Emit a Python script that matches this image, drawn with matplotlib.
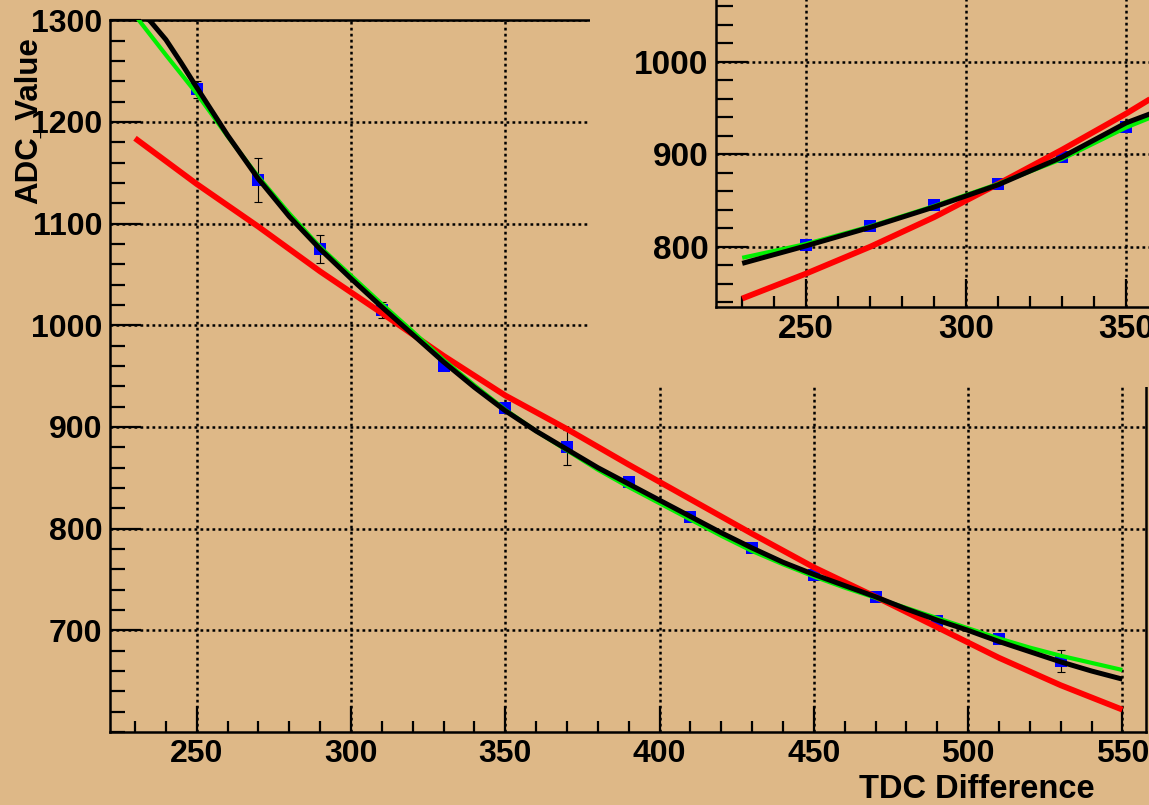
import matplotlib
matplotlib.use("Agg")
import matplotlib.pyplot as plt

plt.rcParams['font.family'] = ['Liberation Sans', 'DejaVu Sans']
plt.rcParams['font.weight'] = 'bold'

BG = "#DEB887"

# ---------------- main plot data ----------------
x_pts = [250, 270, 290, 310, 330, 350, 370, 390, 410, 430, 450, 470, 490, 510, 530]
y_pts = [1232, 1143, 1075, 1015, 960, 919, 880, 846, 811, 781, 754, 733, 709, 691, 670]
y_err = [8.5, 21.5, 14, 8, 3, 3, 17.5, 3, 3, 3, 3, 3, 3, 3, 10.5]

red_x = [230, 250, 270, 290, 310, 330, 350, 370, 390, 410, 430, 450, 470, 490, 510, 530, 550]
red_y = [1184, 1139, 1097, 1053, 1012, 970, 931, 898, 863, 829, 795, 762, 733, 703, 673, 646, 622]

black_x = [230, 235, 240, 245, 250, 260, 270, 280, 290, 300, 310, 320, 330, 340, 350, 360, 370,
           380, 390, 400, 410, 420, 430, 440, 450, 460, 470, 480, 490, 500, 510, 520, 530, 540, 550]
black_y = [1313, 1299, 1281, 1258, 1234, 1187, 1144, 1107, 1075, 1046, 1018, 991, 964, 939, 916, 896, 878,
           860, 844, 828, 812, 796, 781, 767, 755, 744, 733, 721, 710, 700, 689, 679, 669, 660, 652]

green_x = [230, 240, 250, 260, 270, 280, 290, 300, 310, 320, 330, 340, 350, 360, 370, 380, 390,
           400, 410, 420, 430, 440, 450, 460, 470, 480, 490, 500, 510, 520, 530, 540, 550]
green_y = [1305, 1266, 1228, 1186, 1146, 1110, 1077, 1049, 1021, 994, 966, 941, 917, 896, 877, 858, 841,
           825, 809, 793, 778, 765, 753, 742, 732, 722, 712, 702, 692, 683, 675, 668, 661]

x_major = [250, 300, 350, 400, 450, 500, 550]
x_minor = list(range(230, 560, 10))
y_major = [700, 800, 900, 1000, 1100, 1200, 1300]
y_minor = list(range(600, 1301, 20))

# ---------------- inset data ----------------
ix_pts = [250, 270, 290, 310, 330, 350]
iy_pts = [802, 822, 845, 868, 897, 930]

ired_x = [230, 250, 270, 290, 310, 330, 350, 360]
ired_y = [744, 771, 800, 832, 868, 905, 944, 965]
iblack_x = [230, 250, 270, 290, 310, 330, 350, 360]
iblack_y = [782, 801, 821, 843, 867, 897, 934, 947]
igreen_x = [230, 250, 270, 290, 310, 330, 350, 360]
igreen_y = [788, 803, 822, 844, 868, 895, 929, 943]

ix_major = [250, 300, 350, 400, 450, 500, 550]
iy_major = [800, 900, 1000, 1100]
iy_ticklabels = ["800", "900", "1000", "1100"]

W, H = 1149, 805
def fx(px): return px / W
def fy(py): return 1 - py / H

fig = plt.figure(figsize=(W / 100, H / 100), dpi=100, facecolor=BG)

GRID = dict(color='black', linestyle=(0, (1.1, 1.3)), linewidth=1.8)

def style_axes(a, xmaj_len, xmin_len, ymaj_len, ymin_len, fs):
    a.set_facecolor(BG)
    for s in a.spines.values():
        s.set_linewidth(1.8)
        s.set_color('black')
    a.tick_params(axis='x', which='major', direction='in', length=xmaj_len, width=1.6,
                  labelsize=fs, pad=5, top=False)
    a.tick_params(axis='x', which='minor', direction='in', length=xmin_len, width=1.6, top=False)
    a.tick_params(axis='y', which='major', direction='in', length=ymaj_len, width=1.6,
                  labelsize=fs, pad=5.5, right=False)
    a.tick_params(axis='y', which='minor', direction='in', length=ymin_len, width=1.6, right=False)
    a.grid(True, which='major', **GRID)
    a.set_axisbelow(True)

# ---------------- main axes ----------------
ax = fig.add_axes([fx(110), fy(732), (1145.5 - 110) / W, (732 - 20.3) / H])
ax.set_xlim(221.9, 557.5)
ax.set_ylim(600, 1300)
ax.set_xticks(x_major)
ax.set_xticks(x_minor, minor=True)
ax.set_yticks(y_major)
ax.set_yticks(y_minor, minor=True)
style_axes(ax, 18.5, 8, 22, 11, 23)

ax.errorbar(x_pts, y_pts, yerr=y_err, fmt='none', ecolor='black', elinewidth=0.8,
            capsize=3, capthick=0.8, zorder=2)
ax.plot(x_pts, y_pts, linestyle='none', marker='s', markersize=8.5,
        color='#0000FF', markeredgewidth=0, zorder=2.2)
ax.plot(red_x, red_y, color='#FF0000', linewidth=4.2, zorder=3, solid_capstyle='butt')
ax.plot(green_x, green_y, color='#00F000', linewidth=3.0, zorder=4, solid_capstyle='butt')
ax.plot(black_x, black_y, color='black', linewidth=3.6, zorder=5, solid_capstyle='butt')

fig.text(fx(1095), fy(789), "TDC Difference", ha='right', va='center', fontsize=23.5,
         fontweight='bold')
fig.text(fx(29), fy(37), "ADC_Value", ha='center', va='top', rotation=90, fontsize=22.5,
         fontweight='bold')

# ---------------- inset pad ----------------
pad = fig.add_axes([fx(590), fy(387), 1 - fx(590), 387 / H])
pad.set_facecolor(BG)
pad.set_xticks([])
pad.set_yticks([])
for s in pad.spines.values():
    s.set_visible(False)

# ---------------- inset axes ----------------
ins = fig.add_axes([fx(716.3), fy(307.3), 1074 / W, 338 / H])
ins.set_xlim(221.9, 557.5)
ins.set_ylim(734.5, 1100)
ins.set_xticks(ix_major)
ins.set_xticks(list(range(230, 560, 10)), minor=True)
ins.set_yticks(iy_major)
ins.set_yticklabels(iy_ticklabels)
ins.set_yticks(list(range(740, 1101, 20)), minor=True)
style_axes(ins, 20, 8, 23, 12, 24)

ins.plot(ix_pts, iy_pts, linestyle='none', marker='s', markersize=8.5,
         color='#0000FF', markeredgewidth=0, zorder=2.2)
ins.plot(ired_x, ired_y, color='#FF0000', linewidth=4.2, zorder=3, solid_capstyle='butt')
ins.plot(igreen_x, igreen_y, color='#00F000', linewidth=3.0, zorder=4, solid_capstyle='butt')
ins.plot(iblack_x, iblack_y, color='black', linewidth=3.6, zorder=5, solid_capstyle='butt')

fig.savefig("out.png", dpi=100, facecolor=BG)
